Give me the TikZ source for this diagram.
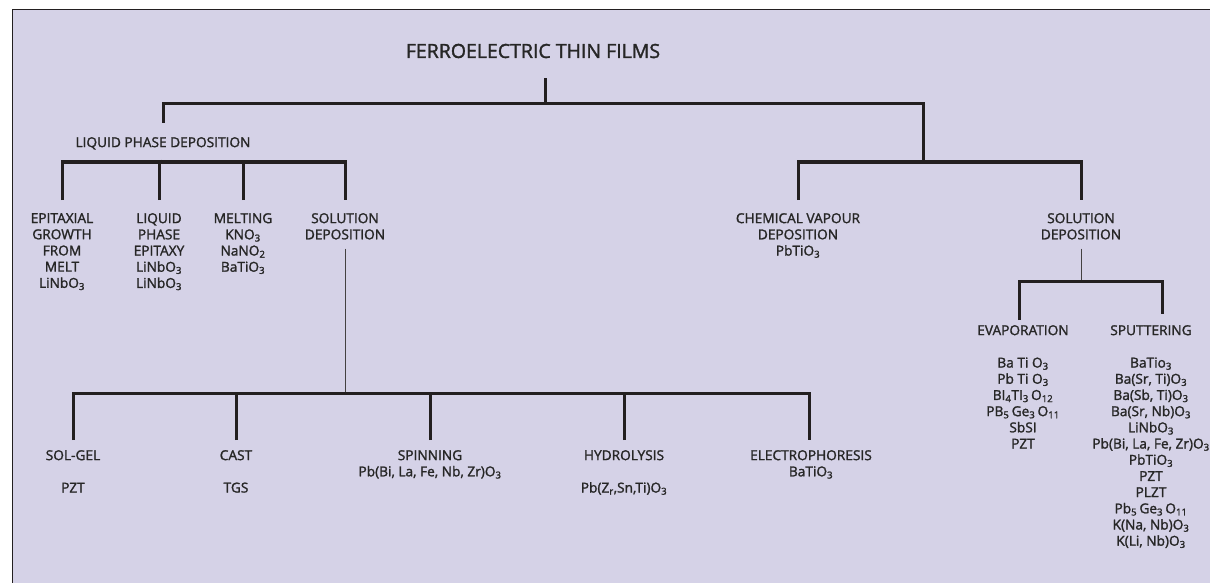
\documentclass[tikz,border=0pt]{standalone}
\usepackage{fontspec}
\setmainfont{Open Sans}[FakeBold=1.6]
\usetikzlibrary{positioning}
\definecolor{fBack}{HTML}{D5D2E7}
\definecolor{fLine}{HTML}{231F20}
\definecolor{fText}{HTML}{262626}
\tikzset{
  lbl/.style={font=\fontsize{13.7}{16.2}\selectfont, text=fText, align=center, inner sep=0pt, anchor=north},
  ttl/.style={font=\fontsize{19.5}{21}\selectfont, text=fText, inner sep=0pt},
  bar/.style={draw=fLine, line width=3pt},
  thinline/.style={draw=fLine!85, line width=1pt},
}
\newcommand{\sub}[1]{\textsubscript{#1}}

\begin{document}
\begin{tikzpicture}[x=1pt, y=-1pt]
    % frame
    \useasboundingbox (0,0) rectangle (1210,583);
    \fill[fBack] (12,10) rectangle (1210,583);
    \draw[fLine, line width=1pt] (12,583) -- (12,10) -- (1210,10);

    % top level
    \node[ttl] (ftf) at (533,51) {FERROELECTRIC THIN FILMS};
    \coordinate (root) at (545,104);
    \coordinate (rsplit) at (923,162);
    \node[lbl] (lpd) at (163,137) {LIQUID PHASE DEPOSITION};
    \node[lbl] (cvd) at (798,213) {CHEMICAL VAPOUR\\DEPOSITION\\PbTiO\sub{3}};
    \node[lbl] (sol2) at (1081,213) {SOLUTION\\DEPOSITION};
    \draw[bar, shorten <=20pt] (ftf.south -| root) -- (root);
    \draw[bar] ([yshift=14pt]lpd.north) |- (root) -| (rsplit);
    \draw[bar] ([yshift=13pt]cvd.north) |- (rsplit) -| ([yshift=13pt]sol2.north);

    % liquid phase deposition
    \coordinate (lsplit) at (160,162);
    \node[lbl] (epi) at (62,213) {EPITAXIAL\\GROWTH\\FROM\\MELT\\LiNbO\sub{3}};
    \node[lbl] (lpe) at (159,213) {LIQUID\\PHASE\\EPITAXY\\LiNbO\sub{3}\\LiNbO\sub{3}};
    \node[lbl] (melt) at (243,213) {MELTING\\KNO\sub{3}\\NaNO\sub{2}\\BaTiO\sub{3}};
    \node[lbl] (sold) at (345,213) {SOLUTION\\DEPOSITION};
    \draw[bar, shorten <=10pt] (lpd.south -| lsplit) -- (lsplit);
    \draw[bar] ([yshift=13pt]epi.north) |- (lsplit) -| ([yshift=13pt]sold.north);
    \foreach \n in {lpe,melt}
      \draw[bar] ([yshift=13pt]\n.north) -- (\n.north |- lsplit);

    % solution deposition (liquid)
    \coordinate (bsplit) at (345,393);
    \node[lbl] (solgel) at (73,450) {SOL-GEL\\[16.2pt]PZT};
    \node[lbl] (cast) at (236,450) {CAST\\[16.2pt]TGS};
    \node[lbl] (spin) at (430,450) {SPINNING\\Pb(Bi, La, Fe, Nb, Zr)O\sub{3}};
    \node[lbl] (hydro) at (624,450) {HYDROLYSIS\\[16.2pt]Pb(Z\sub{r},Sn,Ti)O\sub{3}};
    \node[lbl] (elec) at (811,450) {ELECTROPHORESIS\\BaTiO\sub{3}};
    \draw[thinline, shorten <=9pt] (sold.south) -- (bsplit);
    \draw[bar] ([yshift=10pt]solgel.north) |- (bsplit) -| ([xshift=-2pt,yshift=10pt]elec.north);
    \foreach \n in {cast,spin,hydro}
      \draw[bar] ([yshift=10pt]\n.north) -- (\n.north |- bsplit);

    % solution deposition (right)
    \coordinate (esplit) at (1081,281);
    \node[lbl] (evap) at (1023,325) {EVAPORATION\\[16.2pt]Ba Ti O\sub{3}\\Pb Ti O\sub{3}\\BI\sub{4}TI\sub{3}\,O\sub{12}\\PB\sub{5}\,Ge\sub{3}\,O\sub{11}\\SbSI\\PZT};
    \node[lbl] (sput) at (1151,325) {SPUTTERING\\[16.2pt]BaTio\sub{3}\\Ba(Sr, Ti)O\sub{3}\\Ba(Sb, Ti)O\sub{3}\\Ba(Sr, Nb)O\sub{3}\\LiNbO\sub{3}\\Pb(Bi, La, Fe, Zr)O\sub{3}\\PbTiO\sub{3}\\PZT\\PLZT\\Pb\sub{5}\,Ge\sub{3}\,O\sub{11}\\K(Na, Nb)O\sub{3}\\K(Li, Nb)O\sub{3}};
    \draw[thinline, shorten <=9pt] (sol2.south) -- (esplit);
    \draw[bar] ([xshift=-4pt,yshift=5pt]evap.north) |- (esplit) -| ([xshift=11pt,yshift=11pt]sput.north);
\end{tikzpicture}
\end{document}
